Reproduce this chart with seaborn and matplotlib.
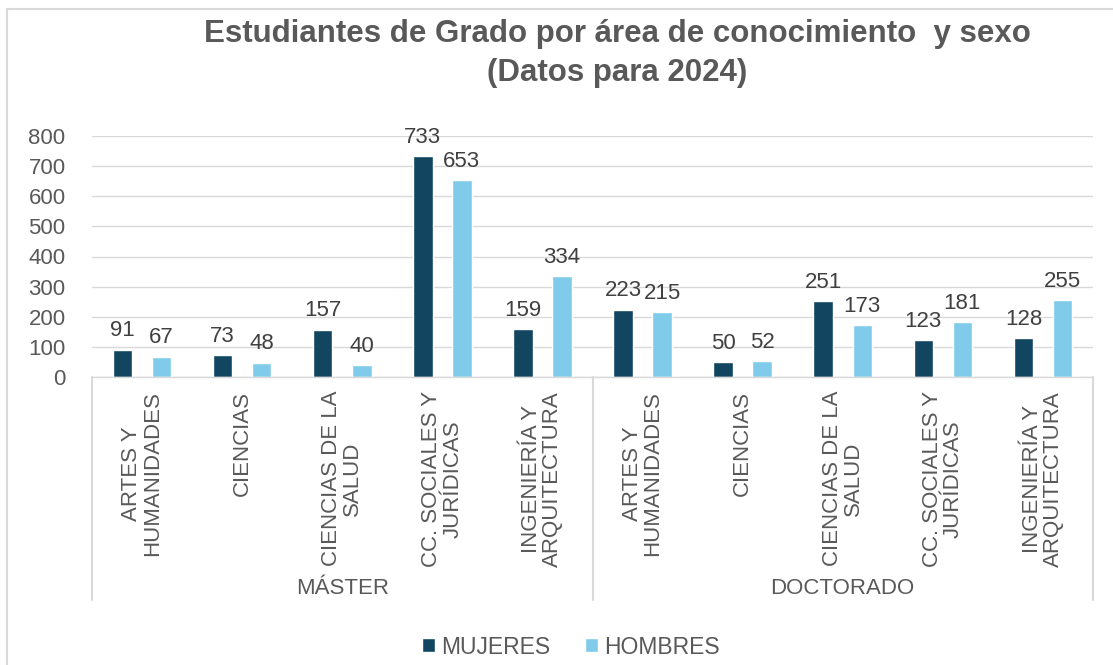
import matplotlib
matplotlib.use("Agg")
import matplotlib.pyplot as plt
import matplotlib.transforms as mtransforms
from matplotlib.lines import Line2D
import pandas as pd
import seaborn as sns

sns.set_theme(style="white")
plt.rcParams["font.family"] = ["Liberation Sans", "DejaVu Sans"]

TEXT = "#595959"
GRID = "#d9d9d9"
COLORS = ["#124660", "#80cbea"]

niveles = ["MÁSTER", "DOCTORADO"]
areas = [
    "ARTES Y\nHUMANIDADES",
    "CIENCIAS",
    "CIENCIAS DE LA\nSALUD",
    "CC. SOCIALES Y\nJURÍDICAS",
    "INGENIERÍA Y\nARQUITECTURA",
]
sexos = ["MUJERES", "HOMBRES"]
mujeres_master = [91, 73, 157, 733, 159]
hombres_master = [67, 48, 40, 653, 334]
mujeres_doctorado = [223, 50, 251, 123, 128]
hombres_doctorado = [215, 52, 173, 181, 255]
y_ticks = [0, 100, 200, 300, 400, 500, 600, 700, 800]

valores = {
    ("MÁSTER", "MUJERES"): mujeres_master,
    ("MÁSTER", "HOMBRES"): hombres_master,
    ("DOCTORADO", "MUJERES"): mujeres_doctorado,
    ("DOCTORADO", "HOMBRES"): hombres_doctorado,
}

rows = []
for nivel in niveles:
    for i, area in enumerate(areas):
        for sexo in sexos:
            rows.append({"pos": f"{nivel}|{area}", "sexo": sexo, "valor": valores[(nivel, sexo)][i]})
df = pd.DataFrame(rows)
order = [f"{n}|{a}" for n in niveles for a in areas]

W, H = 1113, 665
fig = plt.figure(figsize=(W / 100, H / 100), dpi=100)
ax = fig.add_axes([92 / W, 288 / H, 1001 / W, 241 / H])

sns.barplot(data=df, x="pos", y="valor", hue="sexo", order=order, hue_order=sexos,
            palette=COLORS, saturation=1, width=0.78, gap=0.5, errorbar=None, ax=ax)

for container in ax.containers:
    ax.bar_label(container, padding=6, fontsize=16, color="#404040")

ax.set_xlim(-0.5, len(order) - 0.5)
ax.set_ylim(0, 800)
ax.set_yticks(y_ticks)
ax.tick_params(axis="y", length=0, pad=19, labelsize=16, labelcolor=TEXT)
ax.set_xticks(range(len(order)))
ax.set_xticklabels(areas * len(niveles), rotation=90, multialignment="center",
                   linespacing=1.0, fontsize=16, color=TEXT)
ax.tick_params(axis="x", length=0, pad=10)
ax.set_xlabel("")
ax.set_ylabel("")
ax.yaxis.grid(True, color=GRID, linewidth=1.0)
ax.set_axisbelow(True)
for side in ["left", "top", "right"]:
    ax.spines[side].set_visible(False)
ax.spines["bottom"].set_color(GRID)
ax.spines["bottom"].set_linewidth(1.0)

# separadores y etiquetas de nivel
trans = mtransforms.blended_transform_factory(ax.transData, ax.transAxes)
for xs in [-0.5, 4.5, 9.5]:
    ax.plot([xs, xs], [0, -223 / 241], color=GRID, linewidth=1.5, transform=trans, clip_on=False)
for k, nivel in enumerate(niveles):
    ax.text(k * 5 + 2, -211 / 241, nivel, transform=trans, ha="center", va="center",
            fontsize=16, color=TEXT)

handles, labels = ax.get_legend_handles_labels()
ax.legend(handles, labels, loc="center", bbox_to_anchor=(571 / W, 1 - 647 / H),
          bbox_transform=fig.transFigure, ncol=2, frameon=False, fontsize=16.5,
          handlelength=0.55, handleheight=0.55, handletextpad=0.3, columnspacing=1.5,
          labelcolor=TEXT)

fig.text(617 / W, 1 - 42 / H, "Estudiantes de Grado por área de conocimiento  y sexo",
         ha="center", va="baseline", fontsize=22.5, fontweight="bold", color=TEXT)
fig.text(617 / W, 1 - 81 / H, "(Datos para 2024)",
         ha="center", va="baseline", fontsize=22.5, fontweight="bold", color=TEXT)

# marco del gráfico
fig.add_artist(Line2D([7 / W, 7 / W], [0, 1 - 9 / H], color=GRID, linewidth=1.5))
fig.add_artist(Line2D([7 / W, 1], [1 - 9 / H, 1 - 9 / H], color=GRID, linewidth=1.5))

fig.savefig("out.png", dpi=100)
